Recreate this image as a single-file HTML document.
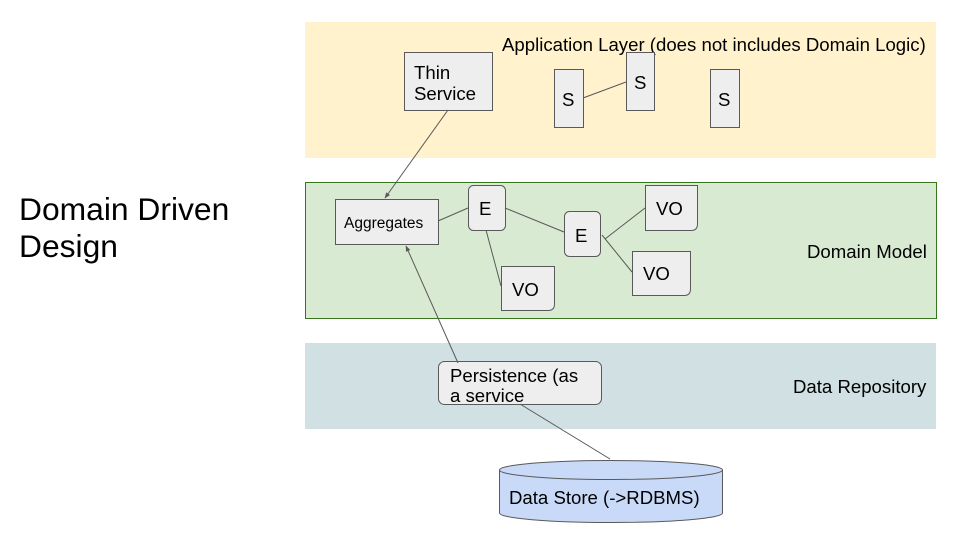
<!DOCTYPE html>
<html><head><meta charset="utf-8"><style>html,body{margin:0;padding:0;background:#fff}svg{display:block}text{font-family:"Liberation Sans",Arial,sans-serif;fill:#000}</style></head>
<body>
<svg width="960" height="540" viewBox="0 0 960 540" xmlns="http://www.w3.org/2000/svg">
<defs><marker id="ar" viewBox="0 0 10 10" refX="9" refY="5" markerWidth="6" markerHeight="6" orient="auto"><path d="M0,1 L10,5 L0,9 z" fill="#595959"/></marker></defs>
<text x="19" y="220" font-size="31.8">Domain Driven</text>
<text x="19" y="257" font-size="31.8">Design</text>
<rect x="305" y="22" width="631" height="136" fill="#fff2cc"/>
<rect x="305.5" y="182.5" width="631" height="136" fill="#d9ead3" stroke="#38761d"/>
<rect x="305" y="343" width="631" height="86" fill="#d0e0e3"/>
<text x="502" y="51" font-size="18.6">Application Layer (does not includes Domain Logic)</text>
<text x="807" y="258" font-size="18.6">Domain Model</text>
<text x="793" y="393" font-size="18.6">Data Repository</text>
<g stroke="#595959" stroke-width="1" fill="#eeeeee">
<rect x="404.5" y="52.5" width="88" height="58"/>
<rect x="554.5" y="69.5" width="29" height="58"/>
<rect x="626.5" y="52.5" width="28" height="58"/>
<rect x="710.5" y="69.5" width="29" height="58"/>
<rect x="335.5" y="199.5" width="103" height="45"/>
<rect x="468.5" y="185.5" width="37" height="45" rx="5"/>
<rect x="564.5" y="211.5" width="36" height="45" rx="5"/>
<path d="M645.5,185.5 H697.5 V224 Q697.5,230.5 691,230.5 H645.5 Z"/>
<path d="M632.5,251.5 H690.5 V289 Q690.5,295.5 684,295.5 H632.5 Z"/>
<path d="M501.5,266.5 H554.5 V304 Q554.5,310.5 548,310.5 H501.5 Z"/>
<rect x="438.5" y="361.5" width="163" height="43" rx="6"/>
</g>
<g stroke="#595959" stroke-width="1" fill="none">
<line x1="583" y1="98" x2="626" y2="82"/>
<line x1="438" y1="221" x2="468" y2="208"/>
<line x1="505" y1="208" x2="564" y2="232"/>
<line x1="605" y1="239" x2="645" y2="208"/>
<line x1="602" y1="235" x2="632" y2="272"/>
<line x1="486" y1="230" x2="501" y2="286"/>
<line x1="448" y1="110" x2="385" y2="198" marker-end="url(#ar)"/>
<line x1="458" y1="363" x2="406" y2="246" marker-end="url(#ar)"/>
<line x1="520" y1="404" x2="610" y2="459"/>
</g>
<text x="414" y="79" font-size="18.6">Thin</text>
<text x="414" y="100" font-size="18.6">Service</text>
<text x="562" y="106" font-size="18.6">S</text>
<text x="634" y="89" font-size="18.6">S</text>
<text x="718" y="106" font-size="18.6">S</text>
<text x="344" y="228" font-size="15.5">Aggregates</text>
<text x="479" y="215" font-size="18.6">E</text>
<text x="575" y="242" font-size="18.6">E</text>
<text x="656" y="215" font-size="18.6">VO</text>
<text x="643" y="280" font-size="18.6">VO</text>
<text x="512" y="296" font-size="18.6">VO</text>
<text x="450" y="382" font-size="18.6">Persistence (as</text>
<text x="450" y="402" font-size="18.6">a service</text>
<g stroke="#595959" stroke-width="1" fill="#c9daf8">
<path d="M499.5,470 V513 A111.5,9.5 0 0 0 722.5,513 V470"/>
<ellipse cx="611" cy="470" rx="111.5" ry="9.5"/>
</g>
<text x="509" y="504" font-size="18.6">Data Store (-&gt;RDBMS)</text>
</svg>
</body></html>
